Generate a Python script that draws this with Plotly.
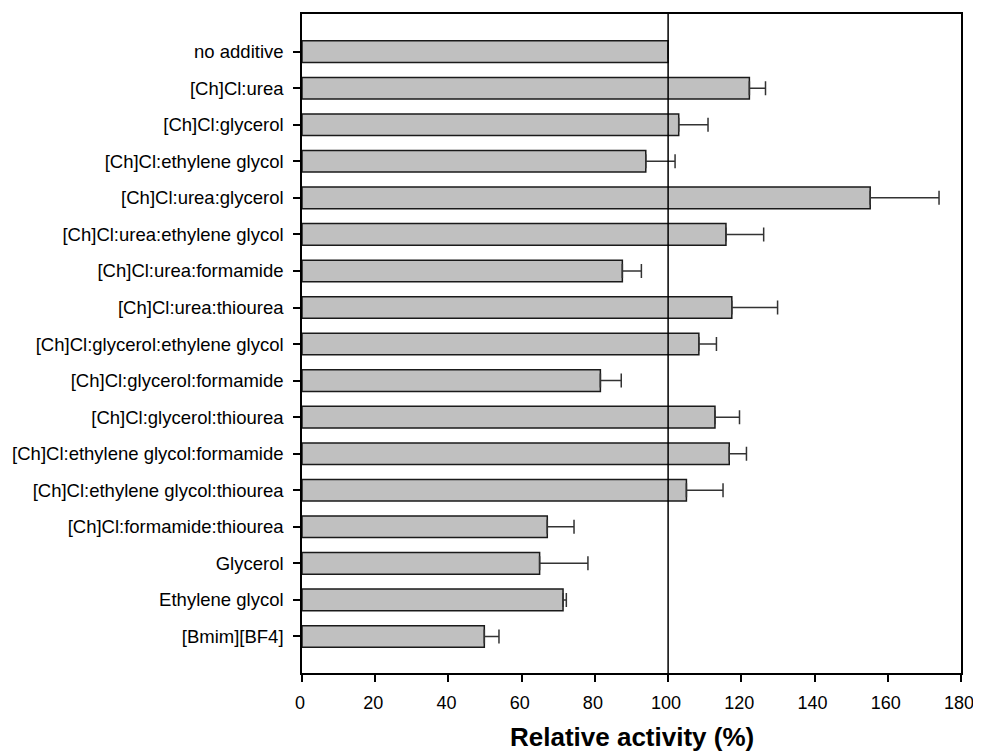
import plotly.graph_objects as go

categories = [
    "no additive",
    "[Ch]Cl:urea",
    "[Ch]Cl:glycerol",
    "[Ch]Cl:ethylene glycol",
    "[Ch]Cl:urea:glycerol",
    "[Ch]Cl:urea:ethylene glycol",
    "[Ch]Cl:urea:formamide",
    "[Ch]Cl:urea:thiourea",
    "[Ch]Cl:glycerol:ethylene glycol",
    "[Ch]Cl:glycerol:formamide",
    "[Ch]Cl:glycerol:thiourea",
    "[Ch]Cl:ethylene glycol:formamide",
    "[Ch]Cl:ethylene glycol:thiourea",
    "[Ch]Cl:formamide:thiourea",
    "Glycerol",
    "Ethylene glycol",
    "[Bmim][BF4]",
]
activity = [100.0, 122.2, 102.9, 93.9, 155.2, 115.8, 87.5, 117.4, 108.4,
            81.5, 112.8, 116.7, 105.0, 67.0, 64.9, 71.3, 49.8]
error_plus = [0.0, 4.4, 8.0, 8.0, 18.8, 10.3, 5.2, 12.5, 4.8,
              5.7, 6.7, 4.7, 10.0, 7.3, 13.2, 0.9, 4.0]
x_ticks = [0, 20, 40, 60, 80, 100, 120, 140, 160, 180]
x_title = "Relative activity (%)"

font_family = "Liberation Sans, Arial, sans-serif"

fig = go.Figure()
fig.add_trace(go.Bar(
    y=categories,
    x=activity,
    orientation="h",
    width=0.59,
    marker=dict(color="#c0c0c0", line=dict(color="#1a1a1a", width=1.5)),
    error_x=dict(
        type="data",
        symmetric=False,
        array=error_plus,
        arrayminus=[0.0] * len(error_plus),
        color="#333333",
        thickness=1.5,
        width=7,
    ),
    showlegend=False,
))

fig.add_shape(type="line", xref="x", yref="paper", x0=100, x1=100, y0=0, y1=1,
              line=dict(color="black", width=1.5), layer="above")

fig.add_annotation(text="<b>" + x_title + "</b>", xref="paper", yref="paper",
                   x=0.5, y=-0.097, xanchor="center", yanchor="middle",
                   showarrow=False,
                   font=dict(family=font_family, size=26, color="black"))

# page body keeps its 8px default margin; figure sized/shifted to fit
fig.update_layout(
    width=973, height=746,
    margin=dict(l=292, r=20, t=4, b=81),
    plot_bgcolor="white", paper_bgcolor="white",
    font=dict(family=font_family, size=18, color="black"),
    bargap=0.4,
)
fig.update_xaxes(
    range=[0, 180], tickvals=x_ticks, ticktext=[str(v) for v in x_ticks],
    showgrid=False, zeroline=False,
    showline=True, linecolor="black", linewidth=1.5, mirror=True,
    ticks="outside", ticklen=7, tickwidth=1.5, tickcolor="black",
    ticklabelstandoff=6, ticklabelshift=-2,
    tickfont=dict(family=font_family, size=18, color="black"),
)
fig.update_yaxes(
    type="category", range=[17.0, -1.03],
    showgrid=False, zeroline=False,
    showline=True, linecolor="black", linewidth=1.5, mirror=True,
    ticks="outside", ticklen=7, tickwidth=1.5, tickcolor="black",
    ticklabelstandoff=6,
    tickfont=dict(family=font_family, size=18.5, color="black"),
)

fig.write_html(
    "out.html",
    config={"displayModeBar": False},
    post_script="document.documentElement.style.overflow='hidden';document.body.style.overflow='hidden';",
)
